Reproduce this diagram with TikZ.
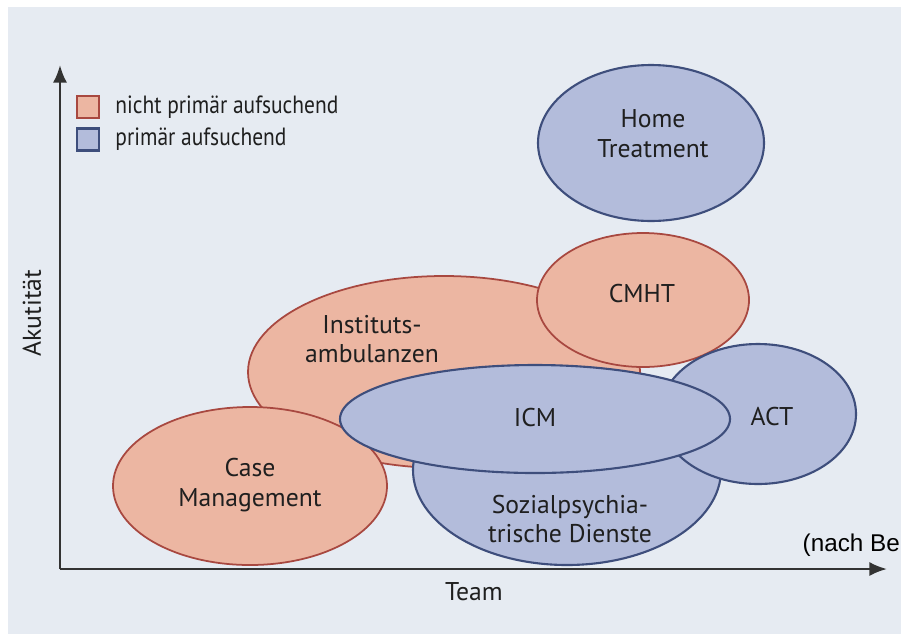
\documentclass[tikz,border=0pt]{standalone}
\usepackage{fontspec}
\setmainfont{PT Sans}
\newfontfamily\arialfont{Liberation Sans}
\usetikzlibrary{arrows.meta}
\definecolor{hinter}{HTML}{E6EBF2}
\definecolor{rotfill}{HTML}{ECB6A2}
\definecolor{rotrand}{HTML}{A84840}
\definecolor{blaufill}{HTML}{B3BCDB}
\definecolor{blaurand}{HTML}{3E4E7C}
\tikzset{
  rot/.style={fill=rotfill, draw=rotrand, line width=0.5pt},
  blau/.style={fill=blaufill, draw=blaurand, line width=0.6pt},
  feld/.style={font=\fontsize{7.3}{8.5}\selectfont, align=center, text=black!88},
  legtext/.style={right, text=black!88, font=\fontsize{7.1}{8}\selectfont\addfontfeature{FakeStretch=0.86}},
  achse/.style={line width=0.7pt, draw=black!80, -{Latex[length=5pt,width=4pt]}}
}
\begin{document}
\begin{tikzpicture}
	 \useasboundingbox (0,0) rectangle (9.01,6.34);
	 \fill[hinter] (0.08,0) rectangle (9.01,6.27);
	 % Achsen
	 \coordinate (o) at (0.60,0.65);
	 \coordinate (oben) at (0.60,5.69);
	 \coordinate (rechts) at (8.87,0.65);
	 \draw[achse] (o)--(oben);
	 \draw[achse] (o)--(rechts);
	 \node (akut) at (0.32,3.21) [feld, rotate=90] {Akutität};
	 \node (team) at (4.74,0.42) [feld] {Team};
	 % Legende
	 \node (lr) at (0.88,5.27) [rot, minimum size=0.22cm, inner sep=0pt] {};
	 \node (lb) at (0.88,4.945) [blau, minimum size=0.22cm, inner sep=0pt] {};
	 \node (lrt) at (1.03,5.27) [legtext] {nicht primär aufsuchend};
	 \node (lbt) at (1.03,4.945) [legtext] {primär aufsuchend};
	 % Versorgungsformen
	 \draw[rot] (4.44,2.62) ellipse (1.96 and 0.96);
	 \draw[rot] (2.50,1.48) ellipse (1.37 and 0.79);
	 \draw[blau] (5.67,1.64) ellipse (1.54 and 0.95);
	 \draw[rot] (6.43,3.34) ellipse (1.06 and 0.67);
	 \draw[blau] (7.58,2.20) ellipse (0.98 and 0.70);
	 \draw[blau] (5.35,2.15) ellipse (1.95 and 0.54);
	 \draw[blau] (6.51,4.91) ellipse (1.13 and 0.78);
	 \node (inst) at (3.72,2.95) [feld] {Instituts-\\ambulanzen};
	 \node (cm) at (2.50,1.49) [feld] {Case\\Management};
	 \node (spd) at (5.70,1.15) [feld] {Sozialpsychia-\\trische Dienste};
	 \node (cmht) at (6.42,3.40) [feld] {CMHT};
	 \node (act) at (7.72,2.17) [feld] {ACT};
	 \node (icm) at (5.35,2.16) [feld] {ICM};
	 \node (ht) at (6.53,5.00) [feld] {Home\\Treatment};
	 \node (quelle) at (8.02,0.89) [right, inner sep=0pt, font=\arialfont\fontsize{6.9}{8}\selectfont] {(nach Be};
\end{tikzpicture}
\end{document}
